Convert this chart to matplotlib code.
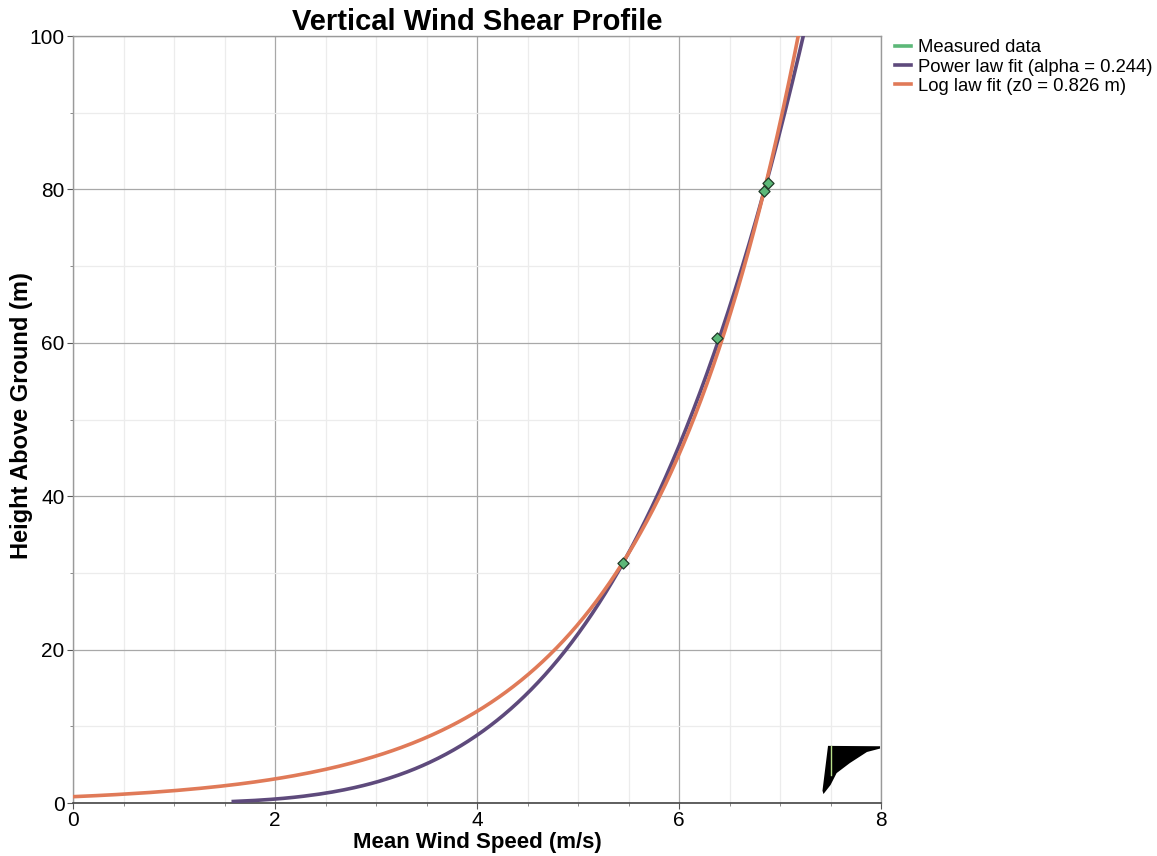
import numpy as np
import matplotlib
matplotlib.use("Agg")
import matplotlib.pyplot as plt
from matplotlib.ticker import MultipleLocator
from matplotlib.lines import Line2D

# measured mean wind speeds at the sensor heights
meas_height = [31.3, 60.6, 79.8, 80.9]
meas_speed = [5.45, 6.38, 6.845, 6.885]

# fit parameters
alpha = 0.244          # power law exponent
v_ref_power = 7.23     # power law speed at z_ref
z0 = 0.826             # log law roughness length (m)
v_ref_log = 7.18       # log law speed at z_ref
z_ref = 100.0

# dark blot near the lower right corner
blot_x = [7.475, 7.99, 7.99, 7.86, 7.69, 7.56, 7.50, 7.43, 7.42]
blot_y = [7.45, 7.40, 7.10, 6.65, 5.2, 3.9, 2.35, 1.17, 1.6]

c_meas = "#5cb878"
c_pow = "#5e4a7c"
c_log = "#e07a58"

plt.rcParams['font.family'] = ['Liberation Sans', 'DejaVu Sans']

fig = plt.figure(figsize=(11.57, 8.56), dpi=100)
ax = fig.add_axes([0.0631, 0.0619, 0.6984, 0.8960])

z_pow = np.linspace(0.2, 110, 800)
v_pow = v_ref_power * (z_pow / z_ref) ** alpha
z_log = np.linspace(z0, 110, 800)
v_log = v_ref_log * np.log(z_log / z0) / np.log(z_ref / z0)

ax.plot(v_pow, z_pow, color=c_pow, lw=2.6, zorder=3)
ax.plot(v_log, z_log, color=c_log, lw=2.6, zorder=4)
ax.scatter(meas_speed, meas_height, marker='D', s=32, color=c_meas,
           edgecolors='#1f3b28', linewidths=0.9, zorder=5)
ax.fill(blot_x, blot_y, color='black', lw=0, zorder=6)
ax.plot([7.5, 7.5], [3.7, 7.4], color='#b8e08a', lw=1.0, zorder=7)

ax.set_xlim(0, 8)
ax.set_ylim(0, 100)
ax.xaxis.set_major_locator(MultipleLocator(2))
ax.xaxis.set_minor_locator(MultipleLocator(0.5))
ax.yaxis.set_major_locator(MultipleLocator(20))
ax.yaxis.set_minor_locator(MultipleLocator(10))
ax.grid(which='major', color='#a8a8a8', lw=0.9)
ax.grid(which='minor', color='#ececec', lw=0.9)
ax.set_axisbelow(True)
ax.tick_params(which='major', length=4, width=0.8, color='#555555', labelsize=15, pad=2)
ax.tick_params(which='minor', length=2, width=0.6, color='#777777')

for s in ['left', 'top', 'right']:
    ax.spines[s].set_color('#9a9a9a')
    ax.spines[s].set_linewidth(1.0)
ax.spines['bottom'].set_color('#444444')
ax.spines['bottom'].set_linewidth(1.2)

ax.set_title("Vertical Wind Shear Profile", fontsize=21, fontweight='bold', pad=2)
ax.set_xlabel("Mean Wind Speed (m/s)", fontsize=16, fontweight='bold', labelpad=1)
ax.set_ylabel("Height Above Ground (m)", fontsize=17, fontweight='bold')
ax.yaxis.set_label_coords(-0.05, 0.505)

handles = [Line2D([], [], color=c_meas, lw=2.6),
           Line2D([], [], color=c_pow, lw=2.6),
           Line2D([], [], color=c_log, lw=2.6)]
labels = ["Measured data", "Power law fit (alpha = 0.244)", "Log law fit (z0 = 0.826 m)"]
ax.legend(handles, labels, loc='upper left', bbox_to_anchor=(1.003, 1.01), frameon=False,
          fontsize=13.3, handlelength=0.9, handletextpad=0.35, labelspacing=0.12,
          borderaxespad=0.2)

fig.savefig("out.png", dpi=100)
